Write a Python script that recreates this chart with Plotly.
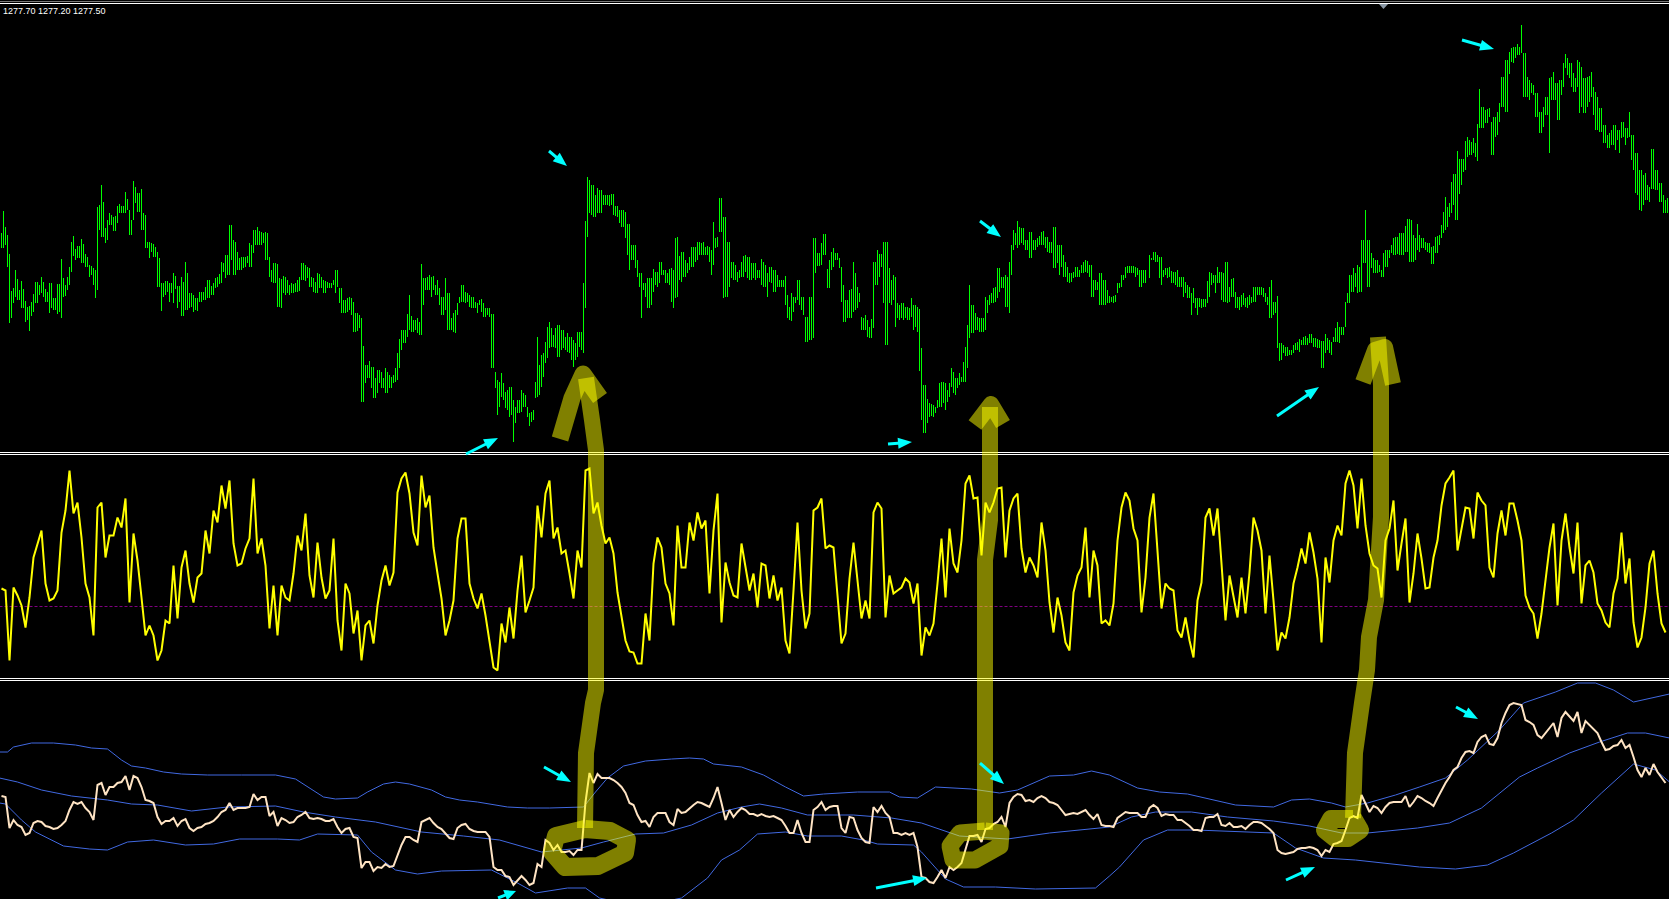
import plotly.graph_objects as go

W, H = 1669, 899

# ---- price pane: bar highs / lows (chart points above the pane floor)
# odd-numbered chart bars, one row per 50 bars
HIGH = [
217,223,196,162,171,169,149,144,156,168,173,161,167,152,166,191,165,183,214,204,211,196,185,182,243,
265,222,237,233,244,244,258,240,269,257,261,235,208,206,198,167,169,167,177,164,173,188,157,155,152,
158,163,170,167,173,188,195,225,210,198,193,193,207,220,223,218,218,193,187,186,171,173,165,166,170,
187,185,182,172,177,173,169,167,170,180,162,150,153,148,137,132,85,89,83,80,78,82,75,75,97,
120,120,155,130,132,186,172,175,174,170,153,172,157,137,147,165,158,155,153,147,151,142,142,136,70,
77,58,63,50,50,60,55,37,40,113,95,108,128,115,125,120,113,113,110,118,118,229,270,265,262,
260,255,255,256,244,240,238,226,205,190,177,167,172,181,178,188,180,181,180,213,198,190,193,203,208,
207,203,203,228,213,252,233,208,188,178,188,195,193,187,180,191,185,183,180,175,170,174,143,153,170,
153,133,153,212,197,207,216,190,202,197,183,150,160,188,163,133,135,123,188,200,196,208,182,175,147,
147,143,142,145,143,102,65,47,45,50,68,67,67,78,72,73,103,165,145,133,132,153,155,162,182,
173,175,188,220,229,222,210,218,210,212,218,213,208,223,205,205,188,177,178,183,185,190,185,170,168,
177,170,154,154,167,175,183,184,184,182,180,180,195,198,195,193,182,183,178,180,173,168,163,162,152,
151,151,178,175,183,178,188,163,172,153,155,152,155,163,163,163,157,163,148,154,107,103,100,105,108,
110,114,116,112,111,109,116,110,113,128,123,148,175,182,185,210,240,210,192,190,180,200,200,212,213,
217,224,231,215,226,212,208,207,204,214,225,253,247,276,299,291,309,310,312,326,343,340,342,333,338,
373,390,398,403,406,425,397,370,365,357,338,353,372,378,367,370,396,387,377,390,383,372,374,363,353,
342,325,317,325,320,328,322,338,315,297,280,277,263,301,280,267,250,
]
LOW = [
202,205,127,147,150,142,128,119,138,147,157,148,137,140,136,132,154,165,194,192,187,183,173,165,160,
213,207,225,219,227,237,237,215,230,238,220,202,192,193,163,139,155,148,147,142,134,140,142,138,139,
148,150,152,155,163,167,172,175,175,180,180,183,183,197,205,205,190,173,167,143,142,155,155,157,158,
170,169,163,158,157,162,157,162,165,163,137,137,140,118,119,48,67,72,52,57,62,57,62,67,70,
100,107,120,118,117,115,160,160,160,155,135,140,120,118,135,148,147,143,142,137,138,133,133,82,35,
53,42,33,8,37,38,43,24,30,53,63,87,102,103,93,100,100,97,83,93,100,142,237,233,237,
237,245,244,235,233,223,212,180,190,173,132,153,142,158,163,175,167,165,142,153,168,173,180,183,190,
195,195,188,185,203,218,153,163,170,168,173,178,170,172,172,165,163,168,158,163,163,145,130,138,150,
140,108,110,112,184,185,195,162,183,190,148,128,132,138,142,120,120,112,122,165,183,105,147,150,132,
132,132,130,120,118,30,17,33,33,42,43,40,53,57,62,68,68,112,117,120,118,120,145,147,152,
162,143,137,200,202,207,200,192,200,203,205,202,197,182,187,183,173,167,172,173,177,178,173,153,160,
145,145,147,147,157,163,172,177,177,175,163,167,172,190,188,165,175,173,167,163,163,157,152,147,135,
142,143,153,167,167,150,148,148,153,142,143,143,145,148,155,155,148,132,135,102,90,94,95,97,100,
105,105,107,103,102,82,97,97,108,108,115,123,147,158,157,158,187,163,177,177,173,183,192,195,196,
195,198,188,188,200,202,200,197,186,197,212,220,233,245,230,265,280,295,297,289,322,327,333,295,315,
343,338,376,387,395,397,353,350,355,333,317,335,297,350,330,355,382,372,358,363,343,337,348,335,320,
318,307,302,305,310,312,305,313,280,255,239,250,248,261,260,248,237,
]
# even-numbered chart bars
HIGH_EVEN = [
239,215,159,180,160,161,143,148,168,165,168,158,167,152,166,172,173,208,201,204,206,193,184,180,245,
248,230,235,234,246,244,251,230,263,257,237,208,207,203,192,167,169,167,174,164,168,177,157,152,158,
158,170,164,172,176,187,195,225,208,192,193,194,205,220,219,217,217,180,187,172,174,170,167,167,173,
187,183,173,168,176,170,168,167,180,162,150,152,152,137,135,104,85,83,72,80,72,78,73,82,111,
120,136,134,130,128,172,173,173,165,162,153,157,132,140,153,165,157,153,148,150,147,142,136,78,68,
67,60,63,43,50,57,43,38,68,85,97,123,122,122,125,120,117,113,107,118,167,273,265,255,260,
255,255,256,244,240,240,226,205,205,177,167,172,172,178,188,180,177,182,212,194,198,187,203,203,208,
208,204,200,212,252,233,208,188,185,180,194,193,187,187,180,188,177,183,180,170,170,155,157,153,170,
153,133,153,212,197,216,181,198,197,192,165,150,161,177,157,132,130,131,188,196,208,208,170,173,145,
147,143,152,145,141,65,51,46,43,67,68,60,82,72,77,88,125,145,137,132,132,150,157,163,182,
173,173,205,217,223,222,210,218,210,214,219,213,208,223,205,195,183,177,183,180,188,189,185,170,177,
170,160,153,155,167,170,184,184,183,180,180,182,190,198,193,180,182,179,178,173,173,165,157,152,152,
151,169,177,175,178,177,188,171,158,153,157,153,153,163,163,162,153,170,148,107,105,103,100,107,111,
113,112,116,112,110,109,112,108,122,123,123,157,175,177,183,210,210,197,190,185,197,200,205,213,217,
217,231,230,212,215,212,207,203,213,215,238,243,268,276,291,291,313,308,307,361,343,341,328,333,347,
373,390,402,403,403,397,373,367,357,338,343,353,373,367,370,387,392,387,372,388,372,373,378,358,342,
325,315,320,325,320,328,322,315,297,280,275,265,301,280,267,255,252,
]
LOW_EVEN = [
202,183,132,153,150,142,130,134,147,155,153,148,142,140,138,153,160,178,190,192,187,183,175,152,220,
213,210,225,219,237,237,240,215,247,238,220,202,198,193,163,153,158,157,161,148,134,140,143,140,148,
150,152,155,162,166,178,175,190,175,180,182,187,183,205,205,207,190,168,167,143,157,157,157,158,159,
170,172,163,157,162,157,162,162,157,147,137,138,135,118,122,48,72,62,52,67,62,57,62,68,82,
107,113,118,120,115,145,160,153,155,145,135,120,120,117,147,148,148,142,142,145,133,135,82,62,43,
50,40,35,27,37,43,33,28,52,55,73,92,103,102,93,102,98,90,90,103,97,213,235,233,237,
245,245,245,234,227,223,195,190,182,163,160,142,145,165,167,175,167,148,152,170,173,177,183,188,195,
195,195,175,202,218,152,153,172,170,172,173,172,170,170,172,163,153,167,158,163,163,132,129,147,145,
135,108,110,177,184,195,162,180,190,182,128,132,132,140,148,120,113,112,165,173,147,105,145,123,130,
130,130,133,123,79,17,27,34,37,43,47,48,63,55,65,68,82,117,120,118,118,137,147,148,158,
162,143,175,205,205,205,200,192,200,205,205,198,197,182,175,173,168,168,173,173,177,177,153,160,145,
145,147,148,148,162,175,177,177,173,163,167,182,192,188,172,173,172,167,165,163,153,152,135,142,143,
143,147,165,157,167,148,147,153,142,140,145,142,147,148,155,153,145,132,137,89,97,94,95,100,98,
105,105,107,103,102,82,100,95,108,107,115,147,158,163,158,187,163,182,177,178,173,183,197,195,195,
195,198,188,190,198,202,198,186,197,205,217,223,237,230,256,278,293,295,293,322,322,327,295,313,328,
343,338,388,392,395,353,353,357,333,317,323,335,350,350,330,363,375,363,358,337,337,343,353,320,318,
307,302,305,300,297,313,312,290,257,240,245,250,261,260,248,237,237,
]

# ---- oscillator pane: values around its zero line
OSC = [
18,16,-54,19,11,1,-21,9,49,63,76,23,6,8,16,74,96,136,93,104,69,23,9,-29,99,
104,49,71,71,89,79,108,4,73,46,9,-29,-19,-29,-54,-44,-14,-17,41,-12,39,56,23,4,29,
33,76,53,96,84,121,98,126,63,41,43,58,68,128,53,68,41,-22,21,-29,21,9,6,33,71,
56,93,31,9,64,29,8,16,68,-14,-44,23,13,-27,-4,-54,-19,-14,-37,1,26,41,21,34,114,
128,134,113,74,61,131,99,111,59,33,8,-29,-14,6,68,88,88,23,8,-2,13,-9,-37,-61,-64,
-17,-36,-1,-32,16,51,-6,6,19,101,69,113,126,68,79,53,56,33,8,56,39,136,138,93,104,
81,63,69,53,14,-11,-34,-45,-46,-57,-57,-7,-34,43,69,59,23,13,-19,81,39,39,84,66,94,
78,86,13,76,113,-16,44,24,11,9,63,41,16,33,-1,43,41,8,31,6,19,-34,-47,16,84,
16,-22,-7,96,99,108,58,61,59,11,-37,-27,28,64,28,-12,6,-12,94,104,98,-11,31,13,16,
19,28,24,3,23,-49,-21,-29,-17,23,68,9,78,43,34,66,123,131,108,109,51,104,94,104,118,
119,49,96,108,113,58,34,49,41,29,84,56,4,-26,9,-9,-36,-44,14,31,39,79,9,56,41,
-17,-14,-19,3,66,99,114,106,78,66,-6,29,89,113,56,-2,23,18,16,-24,-31,-11,-34,-51,6,
24,89,98,71,98,43,-14,31,9,-11,29,-7,34,89,76,56,-7,51,6,-44,-26,-32,-11,23,39,
58,43,74,54,28,-36,49,24,66,81,71,123,136,121,78,128,81,53,41,38,9,66,78,106,36,
63,88,4,33,73,48,18,19,49,66,101,123,129,136,56,79,99,98,68,114,106,101,39,29,73,
96,71,103,103,86,66,11,-1,-7,-32,-7,24,59,83,1,66,93,59,33,84,3,41,46,34,3,
-4,-16,-21,13,28,74,23,48,-16,-41,-31,-1,43,56,13,-17,-26,
]

# ---- lower pane: closes on the band scale
CLOSE = [
103,102,71,79,74,72,64,66,76,78,77,73,72,70,71,74,78,89,97,95,97,91,87,79,114,
116,104,112,112,116,117,123,109,123,121,112,99,98,96,82,75,78,78,81,73,78,80,71,68,71,
72,75,76,78,82,87,89,96,89,91,91,91,92,105,99,102,102,83,87,73,81,79,76,77,82,
84,87,81,80,81,80,78,78,80,72,66,70,71,62,61,31,37,37,28,32,31,35,32,33,44,
54,62,62,59,57,77,79,81,76,72,70,66,61,60,71,74,75,70,68,67,67,67,62,32,29,
29,23,22,14,18,23,19,14,16,35,32,59,56,49,54,47,47,48,44,49,49,97,126,116,125,
121,121,121,119,116,112,106,96,94,84,77,78,72,82,86,86,86,77,74,90,86,87,91,94,97,
96,94,92,101,112,96,79,89,82,87,91,89,85,85,83,85,83,82,83,81,79,73,66,66,79,
66,57,57,89,92,97,89,92,93,93,71,66,82,81,69,61,57,56,92,87,93,86,82,66,66,
64,66,64,66,52,22,21,17,16,22,29,21,32,29,32,36,49,63,63,64,57,70,71,75,77,
82,72,96,102,105,104,98,99,97,101,103,101,97,96,94,89,84,85,86,85,87,89,84,80,85,
74,73,73,72,81,84,87,86,86,86,82,82,91,94,91,83,85,84,84,79,79,76,73,69,69,
68,81,82,82,85,74,73,76,72,72,73,70,74,77,77,76,73,70,66,49,46,45,46,47,50,
51,51,52,51,49,43,49,47,55,56,58,69,81,83,81,104,96,87,93,91,86,92,96,97,97,
97,103,92,97,103,101,98,96,93,101,109,116,122,129,132,141,147,148,146,157,162,164,155,154,161,
176,186,194,196,195,194,179,177,174,164,161,166,171,176,162,181,187,182,178,187,166,178,174,171,166,
157,149,150,153,154,159,151,154,142,129,122,131,124,135,127,121,116,
]

# ---- Bollinger bands: (bar number, level) knots
UPPER_BAR = [0,4,7,16,27,38,46,54,61,66,73,82,91,104,121,138,148,155,162,168,179,184,192,198,205,216,223,230,239,254,264,275,292,298,304,312,323,336,345,352,357,371,382,393,402,412,429,445,450,459,468,486,500,509,525,537,546,555,569,580,594,618,637,646,655,666,673,684,698,710,723,734,750,762,778,789,798,807,817,835]
UPPER_VAL = [147,147,152,156,156,154,151,150,139,133,131,127,125,124,124,124,120,111,102,100,101,107,115,117,115,109,102,99,97,92,91,91,92,107,121,133,138,140,141,140,135,132,124,112,103,105,107,107,102,101,112,110,106,109,123,124,128,124,111,107,105,94,92,99,100,96,92,96,104,112,121,139,169,196,207,216,216,209,197,205]
MID_BAR = [0,9,21,36,54,66,79,96,114,138,152,168,188,211,232,250,271,291,302,318,332,346,359,371,380,391,404,427,446,461,480,504,525,550,555,566,578,596,614,637,655,671,684,709,725,741,760,769,785,800,814,823,835]
MID_VAL = [121,117,109,103,99,95,94,88,92,93,87,82,77,67,63,59,47,51,57,65,66,74,86,92,95,91,84,84,81,76,63,60,66,71,72,82,87,87,82,78,73,66,66,71,76,91,122,131,146,157,166,166,161]
LOWER_BAR = [0,3,11,18,32,45,54,64,77,93,107,120,139,150,159,179,186,198,209,221,246,259,268,284,293,300,320,341,354,361,370,379,393,404,421,432,439,457,461,473,482,498,518,548,555,560,572,584,598,637,648,662,678,710,728,744,757,776,787,801,817,828,835]
LOWER_VAL = [96,95,79,67,53,50,49,57,59,54,55,60,60,59,65,64,47,29,25,28,29,16,6,11,11,1,-8,1,21,39,49,65,67,63,63,59,55,54,47,20,12,12,10,11,23,32,59,69,69,66,51,41,39,32,30,34,46,66,79,106,135,129,117]

PRICE_TEXT = "1277.70 1277.20 1277.50"
ODD_BAR = [1 + 2 * i for i in range(len(HIGH))]
EVEN_BAR = [2 + 2 * i for i in range(len(HIGH_EVEN))]

GREEN, YELLOW, BISQUE, BLUE, CYAN = "#00ff00", "#ffff00", "#ffe4c4", "#4169e1", "#00ffff"
OLIVE = "rgba(255,255,0,0.5)"

def px(x, y):
    return f"{x / W:.5f} {1 - y / H:.5f}"

def path(points, close=False):
    return "M " + " L ".join(px(*p) for p in points) + (" Z" if close else "")

def dom(top, bottom):
    return [1 - bottom / H, 1 - top / H]

bx, by = [], []
for bars, highs, lows in ((ODD_BAR, HIGH, LOW), (EVEN_BAR, HIGH_EVEN, LOW_EVEN)):
    for n, hi, lo in zip(bars, highs, lows):
        bx += [n, n, None]
        by += [lo, hi, None]

fig = go.Figure()
fig.add_trace(go.Scatter(x=bx, y=by, mode="lines", line=dict(color=GREEN, width=1), yaxis="y", hoverinfo="skip"))
fig.add_trace(go.Scatter(x=[0, 835], y=[0, 0], mode="lines", line=dict(color="#800080", width=1, dash="3px,2px"), yaxis="y2", hoverinfo="skip"))
fig.add_trace(go.Scatter(x=ODD_BAR, y=OSC, mode="lines", line=dict(color=YELLOW, width=2), yaxis="y2", hoverinfo="skip"))
for bar, val in ((UPPER_BAR, UPPER_VAL), (MID_BAR, MID_VAL), (LOWER_BAR, LOWER_VAL)):
    fig.add_trace(go.Scatter(x=bar, y=val, mode="lines", line=dict(color=BLUE, width=1), yaxis="y3", hoverinfo="skip"))
fig.add_trace(go.Scatter(x=ODD_BAR, y=CLOSE, mode="lines", line=dict(color=BISQUE, width=2), yaxis="y3", hoverinfo="skip"))

shapes = []
# pane separators and the top edge, as whole pixel rows
for y, col in ((1, "#777777"), (3, "#ffffff"), (452, "#ffffff"), (454, "#ffffff"), (678, "#ffffff"), (680, "#ffffff")):
    shapes.append(dict(type="rect", xref="paper", yref="paper", x0=0, x1=1, y0=1 - y / H, y1=1 - (y + 1) / H,
                       fillcolor=col, line=dict(width=0)))
shapes.append(dict(type="path", xref="paper", yref="paper", path=path([(1379, 4), (1388, 4), (1383.5, 9)], True),
                   fillcolor="#8a98a5", line=dict(width=0)))

# hand-drawn olive marks
strokes = [
    ([(560, 439), (572, 398), (583, 374), (600, 398)], 17),
    ([(586, 378), (592, 420), (596, 450), (596, 690), (593, 703), (586, 753), (585, 828)], 16),
    ([(585, 829), (610, 831), (627, 840), (625, 853), (598, 866), (565, 867), (552, 852), (556, 836), (585, 829)], 18),
    ([(975, 425), (991, 404), (1003, 424)], 16),
    ([(990, 407), (990, 520), (985, 560), (985, 830)], 16),
    ([(985, 831), (960, 833), (950, 846), (953, 860), (975, 860), (1000, 846), (1001, 833), (985, 831)], 17),
    ([(1363, 382), (1375, 350), (1385, 347), (1393, 384)], 16),
    ([(1378, 337), (1381, 385), (1381, 517), (1376, 600), (1369, 637), (1367, 670), (1362, 703), (1355, 753), (1353, 818)], 16),
    ([(1353, 819), (1331, 819), (1325, 830), (1335, 838), (1348, 838), (1360, 830), (1353, 818)], 18),
]
for pts, w in strokes:
    shapes.append(dict(type="path", xref="paper", yref="paper", path=path(pts),
                       line=dict(color=OLIVE, width=w)))

# cyan pointer arrows: (tail, tip)
arrows = [
    ((466, 454), (498, 438)), ((549, 151), (567, 166)), ((980, 221), (1001, 237)), ((888, 444), (912, 442)),
    ((1277, 416), (1319, 387)), ((1462, 40), (1494, 49)), ((498, 898), (516, 891)), ((544, 767), (571, 782)),
    ((876, 888), (927, 878)), ((980, 763), (1004, 784)), ((1286, 880), (1315, 867)), ((1456, 707), (1478, 719)),
]
for (x0, y0), (x1, y1) in arrows:
    dx, dy = x1 - x0, y1 - y0
    d = (dx * dx + dy * dy) ** 0.5
    ux, uy = dx / d, dy / d
    nx, ny = -uy, ux
    hl, hw, sw = min(14, d * 0.6), 5.5, 1.5
    bxp, byp = x1 - ux * hl, y1 - uy * hl
    poly = [(x0 + nx * sw, y0 + ny * sw), (bxp + nx * sw, byp + ny * sw), (bxp + nx * hw, byp + ny * hw), (x1, y1),
            (bxp - nx * hw, byp - ny * hw), (bxp - nx * sw, byp - ny * sw), (x0 - nx * sw, y0 - ny * sw)]
    shapes.append(dict(type="path", xref="paper", yref="paper", path=path(poly, True), fillcolor=CYAN, line=dict(width=0)))

hidden = dict(visible=False, fixedrange=True)
fig.update_layout(
    width=W, height=H, margin=dict(l=0, r=0, t=0, b=0), showlegend=False,
    paper_bgcolor="#000000", plot_bgcolor="#000000",
    xaxis=dict(range=[0.25, W / 2 + 0.25], **hidden),
    yaxis=dict(domain=dom(4, 452), range=[-2, 446], **hidden),
    yaxis2=dict(domain=dom(455, 678), range=[-71.5, 151.5], **hidden),
    yaxis3=dict(domain=dom(681, 899), range=[0, 218], **hidden),
    shapes=shapes,
    annotations=[dict(xref="paper", yref="paper", x=0.5 / W, y=1 - 11.5 / H, xanchor="left", yanchor="middle",
                      text=PRICE_TEXT, showarrow=False, font=dict(family="Liberation Sans", size=9, color="#ffffff"))],
)
fig.write_html("out.html", config=dict(displayModeBar=False),
               post_script="document.body.style.margin='0';document.body.style.background='#000';"
                           "document.querySelectorAll('.shapelayer path').forEach(function(p){p.style.strokeLinejoin='round';});")
